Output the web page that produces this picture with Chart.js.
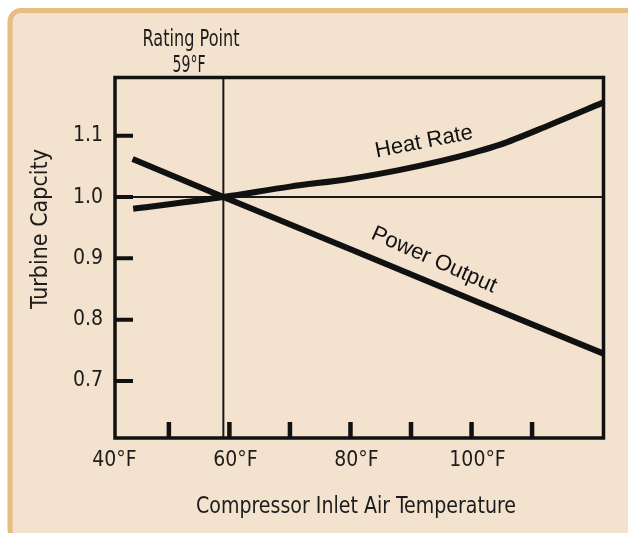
<!DOCTYPE html>
<html>
<head>
<meta charset="utf-8">
<script src="https://cdn.jsdelivr.net/npm/chart.js@4/dist/chart.umd.min.js"></script>
<style>
  body { margin:0; background:#ffffff; overflow:hidden; }
  #turbine_chart { display:block; }
</style>
</head>
<body>
<canvas id="turbine_chart" width="628" height="533"></canvas>
<script>
// values
let tempF = [44.1, 59, 70, 80, 88, 95, 100.5, 104.6, 113, 121.7];
let heatRate = [0.981, 1.0, 1.017, 1.030, 1.044, 1.059, 1.073, 1.085, 1.118, 1.154];
let powerTemp = [44, 59, 80, 100, 121.7];
let powerOutput = [1.062, 1.0, 0.915, 0.833, 0.745];
let xLabelTicks = [40, 60, 80, 100];
let xMarkTicks = [50, 60, 70, 80, 90, 100, 110];
let yTicks = [0.7, 0.8, 0.9, 1.0, 1.1];
let ratingTemp = 59;
let ratingValue = 1.0;

let narrow = "'DejaVu Sans Condensed', 'Liberation Sans', sans-serif";
let plain = "'Liberation Sans', Arial, sans-serif";

function toPoints(xs, ys){
    let arr = new Array();
    for(let i=0; i<xs.length; i++){
        arr.push({x:xs[i], y:ys[i]});
    }
    return arr;
}

let decor = {
    id:"decor",
    beforeDraw:function(chart){
        let c = chart.ctx;
        c.save();
        c.fillStyle = "#f2e2ce";
        c.strokeStyle = "#e8bd84";
        c.lineWidth = 5;
        c.beginPath();
        c.roundRect(10, 10.5, 700, 530, 11);
        c.fill();
        c.stroke();
        c.restore();
    },
    beforeDatasetsDraw:function(chart){
        let c = chart.ctx;
        let a = chart.chartArea;
        let x = chart.scales.x;
        let y = chart.scales.y;
        c.save();
        c.strokeStyle = "#1a1a1a";
        c.lineWidth = 2;
        let rx = x.getPixelForValue(ratingTemp);
        let ry = y.getPixelForValue(ratingValue);
        c.beginPath();
        c.moveTo(rx, a.top);
        c.lineTo(rx, a.bottom);
        c.moveTo(a.left, ry);
        c.lineTo(a.right, ry);
        c.stroke();
        c.restore();
    },
    afterDatasetsDraw:function(chart){
        let c = chart.ctx;
        let a = chart.chartArea;
        let x = chart.scales.x;
        let y = chart.scales.y;
        c.save();
        c.strokeStyle = "#111";
        c.lineWidth = 3.5;
        c.strokeRect(a.left, a.top, a.right - a.left, a.bottom - a.top);
        // short ticks pointing inwards
        c.lineWidth = 4;
        c.beginPath();
        for(let i=0; i<yTicks.length; i++){
            let py = y.getPixelForValue(yTicks[i]);
            c.moveTo(a.left - 1, py);
            c.lineTo(a.left + 18, py);
        }
        c.stroke();
        c.lineWidth = 4.5;
        c.beginPath();
        for(let i=0; i<xMarkTicks.length; i++){
            let px = x.getPixelForValue(xMarkTicks[i]);
            c.moveTo(px, a.bottom);
            c.lineTo(px, a.bottom - 16);
        }
        c.stroke();

        // texts (condensed a bit with maxWidth)
        c.fillStyle = "#1c1c1c";
        c.textAlign = "center";
        c.textBaseline = "alphabetic";
        c.font = "23px " + narrow;
        c.fillText("Rating Point", 191, 46, 97);
        c.fillText("59°F", 189, 72, 33);
        c.fillText("Compressor Inlet Air Temperature", 356, 513, 320);

        c.save();
        c.translate(47, 229);
        c.rotate(-Math.PI/2);
        c.fillText("Turbine Capcity", 0, 0, 164);
        c.restore();

        c.fillStyle = "#111";
        c.font = "22px " + plain;
        c.textBaseline = "middle";
        c.save();
        c.translate(424, 142);
        c.rotate(-11*Math.PI/180);
        c.fillText("Heat Rate", 0, 0);
        c.restore();

        c.save();
        c.translate(434, 260);
        c.rotate(24*Math.PI/180);
        c.fillText("Power Output", 0, 0);
        c.restore();
        c.restore();
    }
};

let turbineChart = new Chart(document.getElementById("turbine_chart"), {
    type:"line",
    plugins:[decor],
    data:{
        datasets:[
            {
                label:"Heat Rate",
                data:toPoints(tempF, heatRate),
                borderColor:"#111",
                borderWidth:6,
                pointRadius:0,
                cubicInterpolationMode:"monotone",
                fill:false
            },
            {
                label:"Power Output",
                data:toPoints(powerTemp, powerOutput),
                borderColor:"#111",
                borderWidth:6,
                pointRadius:0,
                tension:0,
                fill:false
            }
        ]
    },
    options:{
        responsive:false,
        animation:false,
        layout:{
            padding:{top:77.5, right:24.5, left:0, bottom:0}
        },
        plugins:{
            legend:{display:false},
            tooltip:{enabled:false}
        },
        scales:{
            x:{
                type:"linear",
                min:41.1,
                max:121.8,
                grid:{display:false, drawTicks:false},
                border:{display:false},
                afterBuildTicks:function(scale){
                    scale.ticks = xLabelTicks.map(function(v){ return {value:v}; });
                },
                afterFit:function(scale){
                    scale.height = 95;
                },
                ticks:{
                    autoSkip:false,
                    maxRotation:0,
                    padding:10,
                    labelOffset:6,
                    color:"#1c1c1c",
                    font:{family:narrow, size:21},
                    callback:function(v){ return v + "°F"; }
                }
            },
            y:{
                type:"linear",
                min:0.607,
                max:1.195,
                grid:{display:false, drawTicks:false},
                border:{display:false},
                afterBuildTicks:function(scale){
                    scale.ticks = yTicks.map(function(v){ return {value:v}; });
                },
                afterFit:function(scale){
                    scale.width = 115;
                },
                ticks:{
                    autoSkip:false,
                    padding:12,
                    color:"#1c1c1c",
                    font:{family:narrow, size:21},
                    callback:function(v){ return Number(v).toFixed(1); }
                }
            }
        }
    }
});
</script>
</body>
</html>
